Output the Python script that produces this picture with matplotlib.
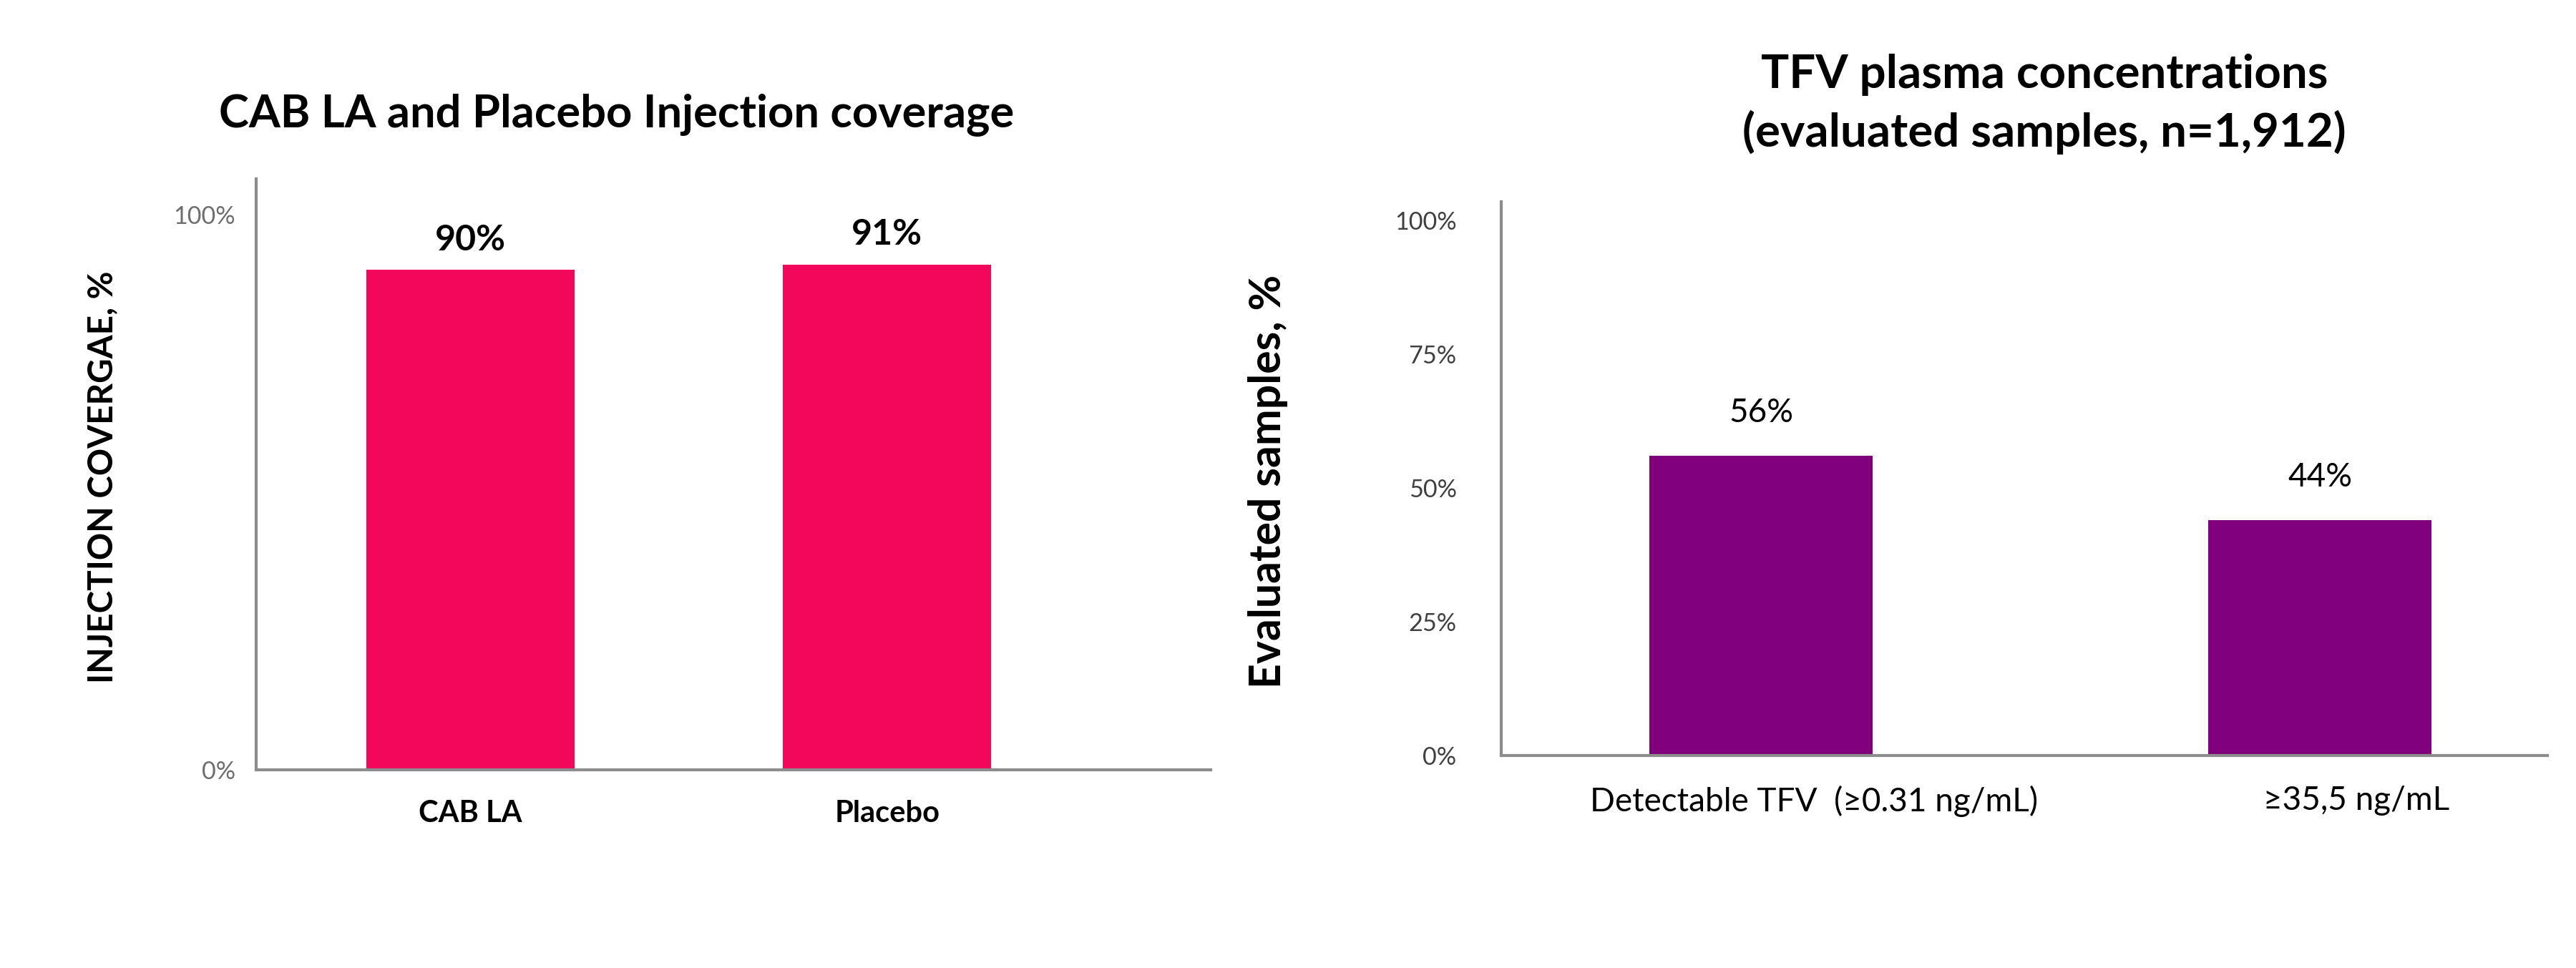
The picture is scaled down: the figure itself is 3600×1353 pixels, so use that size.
import matplotlib

matplotlib.use("Agg")
import matplotlib.pyplot as plt
from matplotlib.transforms import ScaledTranslation

# left panel: injection coverage
cov_groups = ["CAB LA", "Placebo"]
cov_values = [90, 91]
cov_labels = ["90%", "91%"]

# right panel: TFV plasma concentrations
tfv_groups = ["Detectable TFV  (\u22650.31 ng/mL)", "\u226535,5 ng/mL"]
tfv_values = [56, 44]
tfv_labels = ["56%", "44%"]
tfv_ticks = [0, 25, 50, 75, 100]

PINK = "#F2075A"
PURPLE = "#80007B"
AXIS_GRAY = "#8C8C8C"

plt.rcParams["font.family"] = ["Lato", "DejaVu Sans"]

fig = plt.figure(figsize=(12, 4.51), dpi=300)

# ---- left chart
ax1 = fig.add_axes([0.0994, 0.2047, 0.3706, 0.6105])
ax1.bar(range(len(cov_groups)), cov_values, width=0.5, color=PINK)
ax1.set_xlim(-0.515, 1.777)
ax1.set_ylim(0, 106.4)
ax1.set_yticks([0, 100])
ax1.set_yticklabels(["0%", "100%"], fontsize=8.2, color="#6E6E6E")
ax1.set_xticks(range(len(cov_groups)))
ax1.set_xticklabels(cov_groups, fontsize=10, fontweight="bold")
ax1.tick_params(axis="y", length=0, pad=7)
ax1.tick_params(axis="x", length=0, pad=10)
for i, (v, lab) in enumerate(zip(cov_values, cov_labels)):
    ax1.annotate(lab, (i, v), xytext=(0, 10), textcoords="offset points",
                 ha="center", va="center", fontsize=12, fontweight="bold")

# ---- right chart
ax2 = fig.add_axes([0.5828, 0.2195, 0.4061, 0.5721])
ax2.bar(range(len(tfv_groups)), tfv_values, width=0.4, color=PURPLE)
ax2.set_xlim(-0.465, 1.407)
ax2.set_ylim(0, 103.5)
ax2.set_yticks(tfv_ticks)
ax2.set_yticklabels([f"{t}%" for t in tfv_ticks], fontsize=8.2, color="#404040")
ax2.set_xticks(range(len(tfv_groups)))
ax2.set_xticklabels(tfv_groups, fontsize=11)
ax2.tick_params(axis="y", length=0, pad=15)
ax2.tick_params(axis="x", length=0, pad=10)
# the category labels sit a little right of the bar centres in the original
for lab, dx in zip(ax2.get_xticklabels(), (0.245, 0.17)):
    lab.set_transform(lab.get_transform() + ScaledTranslation(dx, 0, fig.dpi_scale_trans))
for i, (v, lab) in enumerate(zip(tfv_values, tfv_labels)):
    ax2.annotate(lab, (i, v), xytext=(0, 14.5), textcoords="offset points",
                 ha="center", va="center", fontsize=11)

for ax in (ax1, ax2):
    for side in ("top", "right"):
        ax.spines[side].set_visible(False)
    for side in ("left", "bottom"):
        ax.spines[side].set_color(AXIS_GRAY)
        ax.spines[side].set_linewidth(1.0)

# titles and axis labels
fig.text(0.2394, 0.8817, "CAB LA and Placebo Injection coverage",
         ha="center", va="center", fontsize=15.2, fontweight="bold")
fig.text(0.7936, 0.8925, "TFV plasma concentrations\n(evaluated samples, n=1,912)",
         ha="center", va="center", fontsize=15.7, fontweight="bold", linespacing=1.4)
fig.text(0.0397, 0.5070, "INJECTION COVERGAE, %", rotation=90,
         ha="center", va="center", fontsize=11.4, fontweight="bold")
fig.text(0.4922, 0.5026, "Evaluated samples, %", rotation=90,
         ha="center", va="center", fontsize=14.6, fontweight="bold")

fig.savefig("out.png", dpi=300, facecolor="white")
